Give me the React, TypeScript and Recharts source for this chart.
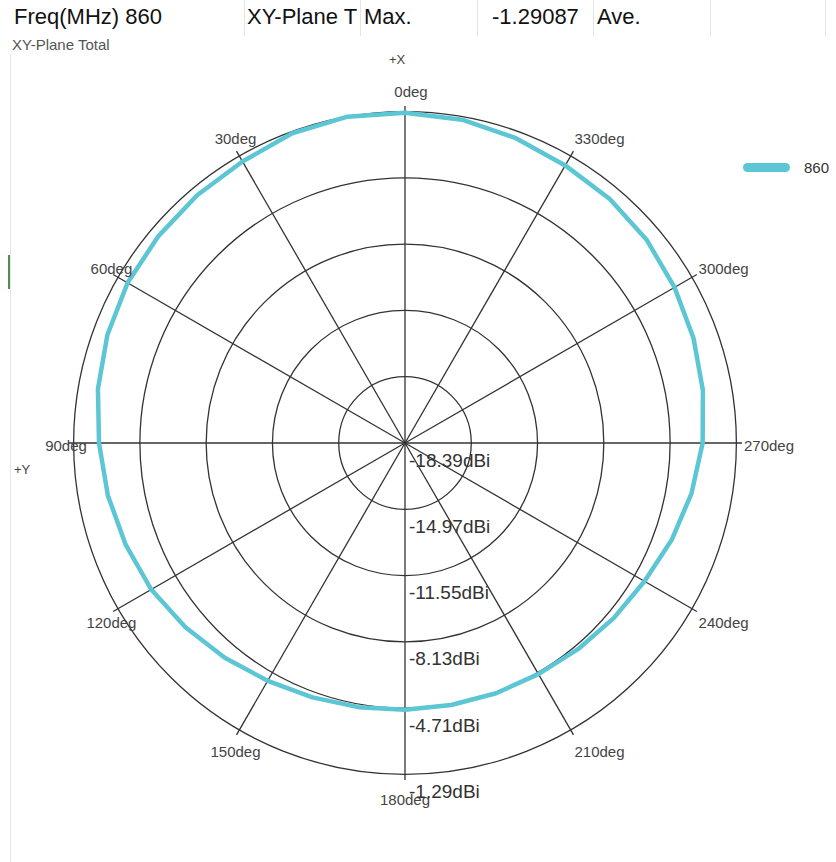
import React from "react";
import {
  RadarChart,
  Radar,
  PolarGrid,
  PolarAngleAxis,
  PolarRadiusAxis,
  Legend,
} from "recharts";

// azimuth (deg) and total gain (dBi)
const ANGLES = [
  0, 10, 20, 30, 40, 50, 60, 70, 80, 90, 100, 110, 120, 130, 140, 150, 160, 170,
  180, 190, 200, 210, 220, 230, 240, 250, 260, 270, 280, 290, 300, 310, 320, 330,
  340, 350,
];
const GAIN = [
  -1.35, -1.29, -1.38, -1.62, -1.7, -1.78, -1.86, -2.05, -2.3, -2.6, -2.82,
  -3.05, -3.27, -3.6, -3.92, -4.22, -4.42, -4.55, -4.62, -4.66, -4.65, -4.62,
  -4.5, -4.33, -4.12, -3.75, -3.38, -3.03, -2.78, -2.55, -2.33, -2.1, -1.95,
  -1.85, -1.65, -1.45,
];
const ANGLE_TICKS = [0, 30, 60, 90, 120, 150, 180, 210, 240, 270, 300, 330];
const RING_TICKS = [-18.39, -14.97, -11.55, -8.13, -4.71, -1.29];
const SERIES_NAME = "860";

const HEADER_CELLS = ["Freq(MHz) 860", "XY-Plane T", "Max.", "-1.29087", "Ave."];
const HEADER_LEFT = [14, 247, 364, 492, 597];
const HEADER_SEPS = [244, 360, 477, 593, 710, 825];

const data = ANGLES.map((angle, i) => ({ angle, gain: GAIN[i] }));

const FONT = "'Liberation Sans', Arial, sans-serif";
const TEAL = "#5cc6d4";
const GRID = "#333";

const AngleTick = (props: any) => {
  const { x, y, payload } = props;
  const deg = Number(payload.value);
  const right = deg > 180;
  const dy = 2 - Math.cos((deg * Math.PI) / 180) * 15;
  return (
    <text
      x={x + (deg === 0 ? 6 : 0)}
      y={y + dy}
      textAnchor={right ? "start" : "middle"}
      dominantBaseline="central"
      fontSize={15}
      fontFamily={FONT}
      fill="#444"
    >
      {deg}deg
    </text>
  );
};

const RingTick = (props: any) => {
  const { x, y, payload } = props;
  return (
    <text
      x={x + 4}
      y={y + 17}
      textAnchor="start"
      dominantBaseline="central"
      fontSize={19}
      fontFamily={FONT}
      fill="#333"
    >
      {Number(payload.value).toFixed(2)}dBi
    </text>
  );
};

const LegendContent = (props: any) => (
  <div style={{ fontFamily: FONT }}>
    {(props.payload || []).map((p: any) => (
      <div key={p.value} style={{ display: "flex", alignItems: "center" }}>
        <span
          style={{
            display: "inline-block",
            width: 47,
            height: 9,
            borderRadius: 5,
            background: p.color,
          }}
        />
        <span style={{ marginLeft: 14, fontSize: 15, color: "#333" }}>
          {p.value}
        </span>
      </div>
    ))}
  </div>
);

export default function App() {
  return (
    <div
      style={{
        position: "absolute",
        left: 0,
        top: 0,
        width: 836,
        height: 862,
        background: "#fff",
        overflow: "hidden",
        fontFamily: FONT,
      }}
    >
      {HEADER_SEPS.map((x) => (
        <div
          key={x}
          style={{
            position: "absolute",
            left: x,
            top: 0,
            width: 1,
            height: 36,
            background: "#e4e4e4",
          }}
        />
      ))}
      {HEADER_CELLS.map((t, i) => (
        <div
          key={t}
          style={{
            position: "absolute",
            left: HEADER_LEFT[i],
            top: 4,
            fontSize: 22,
            color: "#111",
            whiteSpace: "nowrap",
          }}
        >
          {t}
        </div>
      ))}
      <div
        style={{ position: "absolute", left: 12, top: 36, fontSize: 15, color: "#555" }}
      >
        XY-Plane Total
      </div>
      <div
        style={{ position: "absolute", left: 10, top: 54, width: 1, height: 808, background: "#e6e6e6" }}
      />
      <div
        style={{ position: "absolute", left: 8, top: 255, width: 2, height: 34, background: "#4f8f4f" }}
      />
      <div style={{ position: "absolute", left: 389, top: 52, fontSize: 13, color: "#444" }}>
        +X
      </div>
      <div style={{ position: "absolute", left: 14, top: 462, fontSize: 13, color: "#444" }}>
        +Y
      </div>

      <div style={{ position: "absolute", left: 0, top: 0 }}>
        <RadarChart
          width={836}
          height={862}
          data={data}
          cx={405}
          cy={443}
          outerRadius={337}
          startAngle={90}
          endAngle={450}
          margin={{ top: 0, right: 0, bottom: 0, left: 0 }}
        >
          <PolarGrid gridType="circle" stroke={GRID} strokeWidth={1.3} />
          <PolarAngleAxis
            dataKey="angle"
            type="number"
            domain={[0, 360]}
            ticks={ANGLE_TICKS}
            tick={<AngleTick />}
            tickLine={false}
            tickSize={2}
            axisLine={false}
          />
          <PolarRadiusAxis
            type="number"
            angle={-90}
            domain={[-18.39, -1.29]}
            ticks={RING_TICKS}
            tick={<RingTick />}
            axisLine={false}
            tickLine={false}
          />
          <Radar
            name={SERIES_NAME}
            dataKey="gain"
            stroke={TEAL}
            strokeWidth={4.5}
            strokeLinejoin="round"
            fill="none"
            fillOpacity={0}
            dot={false}
            isAnimationActive={false}
          />
          <Legend
            layout="vertical"
            align="right"
            verticalAlign="top"
            content={<LegendContent />}
            wrapperStyle={{ left: 743, top: 159, right: "auto", width: 100 }}
          />
        </RadarChart>
      </div>
    </div>
  );
}
